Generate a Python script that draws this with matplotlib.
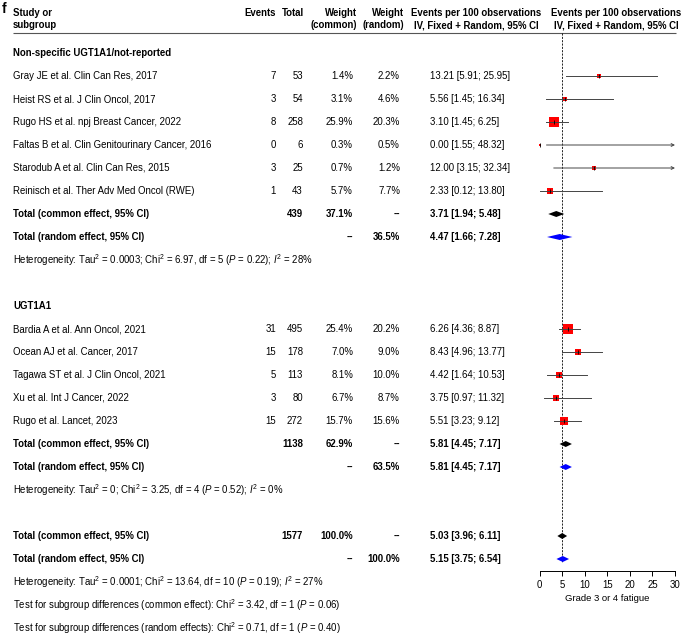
import numpy as np
import matplotlib
matplotlib.use('Agg')
import matplotlib.pyplot as plt

plt.rcParams['font.family'] = ['Liberation Sans', 'DejaVu Sans']
plt.rcParams['mathtext.fontset'] = 'custom'
plt.rcParams['mathtext.rm'] = 'Liberation Sans'
plt.rcParams['mathtext.it'] = 'Liberation Sans:italic'
plt.rcParams['mathtext.bf'] = 'Liberation Sans:bold'

# --- data ---
g1_name = 'Non-specific UGT1A1/not-reported'
g1_studies = ['Gray JE et al. Clin Can Res, 2017',
              'Heist RS et al. J Clin Oncol, 2017',
              'Rugo HS et al. npj Breast Cancer, 2022',
              'Faltas B et al. Clin Genitourinary Cancer, 2016',
              'Starodub A et al. Clin Can Res, 2015',
              'Reinisch et al. Ther Adv Med Oncol (RWE)']
g1_events = [7, 3, 8, 0, 3, 1]
g1_total = [53, 54, 258, 6, 25, 43]
g1_w_common = [1.4, 3.1, 25.9, 0.3, 0.7, 5.7]
g1_w_random = [2.2, 4.6, 20.3, 0.5, 1.2, 7.7]
g1_est = [13.21, 5.56, 3.10, 0.00, 12.00, 2.33]
g1_lo = [5.91, 1.45, 1.45, 1.55, 3.15, 0.12]
g1_hi = [25.95, 16.34, 6.25, 48.32, 32.34, 13.80]
g1_common = [3.71, 1.94, 5.48]
g1_random = [4.47, 1.66, 7.28]
g1_n, g1_wc, g1_wr = 439, 37.1, 36.5
g1_het = r'Heterogeneity: Tau$^2$ = 0.0003; Chi$^2$ = 6.97, df = 5 ($P$ = 0.22); $I^2$ = 28%'

g2_name = 'UGT1A1'
g2_studies = ['Bardia A et al. Ann Oncol, 2021',
              'Ocean AJ et al. Cancer, 2017',
              'Tagawa ST et al. J Clin Oncol, 2021',
              'Xu et al. Int J Cancer, 2022',
              'Rugo et al. Lancet, 2023']
g2_events = [31, 15, 5, 3, 15]
g2_total = [495, 178, 113, 80, 272]
g2_w_common = [25.4, 7.0, 8.1, 6.7, 15.7]
g2_w_random = [20.2, 9.0, 10.0, 8.7, 15.6]
g2_est = [6.26, 8.43, 4.42, 3.75, 5.51]
g2_lo = [4.36, 4.96, 1.64, 0.97, 3.23]
g2_hi = [8.87, 13.77, 10.53, 11.32, 9.12]
g2_common = [5.81, 4.45, 7.17]
g2_random = [5.81, 4.45, 7.17]
g2_n, g2_wc, g2_wr = 1138, 62.9, 63.5
g2_het = r'Heterogeneity: Tau$^2$ = 0; Chi$^2$ = 3.25, df = 4 ($P$ = 0.52); $I^2$ = 0%'

all_common = [5.03, 3.96, 6.11]
all_random = [5.15, 3.75, 6.54]
all_n, all_wc, all_wr = 1577, 100.0, 100.0
all_het = r'Heterogeneity: Tau$^2$ = 0.0001; Chi$^2$ = 13.64, df = 10 ($P$ = 0.19); $I^2$ = 27%'
test_common = r'Test for subgroup differences (common effect): Chi$^2$ = 3.42, df = 1 ($P$ = 0.06)'
test_random = r'Test for subgroup differences (random effects): Chi$^2$ = 0.71, df = 1 ($P$ = 0.40)'

x_ticks = [0, 5, 10, 15, 20, 25, 30]
x_label = 'Grade 3 or 4 fatigue'

# --- layout (pixels) ---
W, H = 682, 636
ROW0, STEP = 53, 23
FS = 6.95


def r(px):
    return (px - ROW0) / STEP


X_LABEL, X_EV, X_TOT, X_WC, X_WR, X_CI = 13, 276, 303, 353, 400, 430
AX_L, AX_R, AX_Y = 539.5, 675, 571

fig = plt.figure(figsize=(W / 100, H / 100), dpi=100)
ax_t = fig.add_axes([0, 0, 1, 1])
ax_t.set_xlim(0, W)
ax_t.set_ylim(r(H), r(0))
ax_t.axis('off')

ax = fig.add_axes([AX_L / W, (H - AX_Y) / H, (AX_R - AX_L) / W, AX_Y / H])
ax.set_xlim(0, 30)
ax.set_ylim(r(AX_Y), r(0))
ax.patch.set_alpha(0)
for s in ['top', 'right', 'left']:
    ax.spines[s].set_visible(False)
ax.spines['bottom'].set_linewidth(0.7)
ax.set_yticks([])
ax.set_xticks(x_ticks)
ax.tick_params(axis='x', labelsize=6.9, length=3.5, width=0.7, pad=3)
ax.set_xlabel(x_label, fontsize=6.8, labelpad=3)


def txt(x, row, s, ha='left', bold=False):
    ax_t.text(x, row, s, ha=ha, va='center', fontsize=FS,
              fontweight='bold' if bold else 'normal')


# header
ax_t.text(2, r(9), 'f', fontsize=10, fontweight='bold', va='center')
txt(X_LABEL, r(12.5), 'Study or', bold=True)
txt(X_LABEL, r(25), 'subgroup', bold=True)
txt(X_EV, r(12.5), 'Events', ha='right', bold=True)
txt(X_TOT + 1, r(12.5), 'Total', ha='right', bold=True)
txt(X_WC + 4, r(12.5), 'Weight', ha='right', bold=True)
txt(X_WC + 4, r(25), '(common)', ha='right', bold=True)
txt(X_WR + 4, r(12.5), 'Weight', ha='right', bold=True)
txt(X_WR + 4, r(25), '(random)', ha='right', bold=True)
for xc in [476, 616]:
    txt(xc, r(12.5), 'Events per 100 observations', ha='center', bold=True)
    txt(xc, r(25), 'IV, Fixed + Random, 95% CI', ha='center', bold=True)
ax_t.hlines(r(33), X_LABEL, 676, color='#555555', lw=0.8)

ax.vlines(all_common[0], r(33), r(562), color='black', lw=0.6,
          linestyles=(0, (2.5, 1.5)), clip_on=False)


def study_rows(start, names, ev, tot, wc, wr, est, lo, hi):
    for i in range(len(names)):
        row = start + i
        txt(X_LABEL, row, names[i])
        txt(X_EV, row, str(ev[i]), ha='right')
        txt(X_TOT, row, str(tot[i]), ha='right')
        txt(X_WC, row, '%.1f%%' % wc[i], ha='right')
        txt(X_WR, row, '%.1f%%' % wr[i], ha='right')
        txt(X_CI, row, '%.2f [%.2f; %.2f]' % (est[i], lo[i], hi[i]))
        side = (1.45 * np.sqrt(wc[i]) + 1.8) * 0.72
        ax.plot(est[i], row, marker='s', ms=side, color='#ff0000',
                mec='#ff0000', mew=0, clip_on=False, zorder=3)
        if hi[i] > 30:
            ax.annotate('', xy=(30, row), xytext=(lo[i], row),
                        arrowprops=dict(arrowstyle='->', color='#444444',
                                        lw=0.7, shrinkA=0, shrinkB=0,
                                        mutation_scale=5),
                        annotation_clip=False, zorder=4)
        else:
            ax.plot([lo[i], hi[i]], [row, row], color='#444444', lw=0.7,
                    clip_on=False, zorder=4)
        ax.plot(est[i], row, marker='|', ms=3.2, mew=0.6, color='black',
                clip_on=False, zorder=5)


def diamond(row, vals, color, h=0.13):
    e, lo, hi = vals
    ax.fill([lo, e, hi, e], [row, row - h, row, row + h], color=color,
            lw=0, zorder=4)


def total_rows(row, n, wc, wr, common, random, het):
    txt(X_LABEL, row, 'Total (common effect, 95% CI)', bold=True)
    txt(X_TOT, row, str(n), ha='right', bold=True)
    txt(X_WC, row, '%.1f%%' % wc, ha='right', bold=True)
    txt(X_WR, row, '--', ha='right', bold=True)
    txt(X_CI, row, '%.2f [%.2f; %.2f]' % tuple(common), bold=True)
    diamond(row, common, 'black')
    txt(X_LABEL, row + 1, 'Total (random effect, 95% CI)', bold=True)
    txt(X_WC, row + 1, '--', ha='right', bold=True)
    txt(X_WR, row + 1, '%.1f%%' % wr, ha='right', bold=True)
    txt(X_CI, row + 1, '%.2f [%.2f; %.2f]' % tuple(random), bold=True)
    diamond(row + 1, random, '#0000ff')
    txt(X_LABEL, row + 2, het)


txt(X_LABEL, 0, g1_name, bold=True)
study_rows(1, g1_studies, g1_events, g1_total, g1_w_common, g1_w_random,
           g1_est, g1_lo, g1_hi)
total_rows(7, g1_n, g1_wc, g1_wr, g1_common, g1_random, g1_het)

txt(X_LABEL, 11, g2_name, bold=True)
study_rows(12, g2_studies, g2_events, g2_total, g2_w_common, g2_w_random,
           g2_est, g2_lo, g2_hi)
total_rows(17, g2_n, g2_wc, g2_wr, g2_common, g2_random, g2_het)

total_rows(21, all_n, all_wc, all_wr, all_common, all_random, all_het)
txt(X_LABEL, 24, test_common)
txt(X_LABEL, 25, test_random)

fig.savefig('out.png', dpi=100)
